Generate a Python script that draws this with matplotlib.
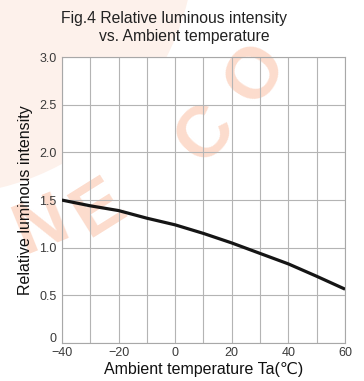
import matplotlib.pyplot as plt
from matplotlib.patches import Circle
from matplotlib.transforms import ScaledTranslation

# Fig.4 relative luminous intensity vs ambient temperature
temps = [-40, -30, -20, -10, 0, 10, 20, 30, 40, 50, 60]
intensity = [1.50, 1.44, 1.39, 1.31, 1.24, 1.15, 1.05, 0.94, 0.83, 0.70, 0.565]

x_ticks = [-40, -20, 0, 20, 40, 60]
y_ticks = [0, 0.5, 1.0, 1.5, 2.0, 2.5, 3.0]
y_labels = ["0", "0.5", "1.0", "1.5", "2.0", "2.5", "3.0"]

plt.rcParams["font.family"] = ["Liberation Sans", "DejaVu Sans"]

fig = plt.figure(figsize=(3.64, 3.81), dpi=100)

# faint logo disc in the top-left corner (behind the axes)
fig.patches.append(Circle((-0.6, 4.41), 2.55, transform=fig.dpi_scale_trans,
                          facecolor="#fdf1eb", edgecolor="none", zorder=-5))

ax = fig.add_axes([0.170, 0.0997, 0.778, 0.7503])
ax.set_facecolor("white")

# watermark letters along an arc, over the axes background but under the grid
wm = [("N", 0.112, 0.405, 22), ("E", 0.272, 0.452, 32),
      ("C", 0.565, 0.650, 48), ("O", 0.705, 0.810, 58)]
for ch, fx, fy, rot in wm:
    ax.text(fx, fy, ch, transform=fig.transFigure, fontsize=52, fontweight="bold",
            color="#fcdccd", rotation=rot, ha="center", va="center",
            zorder=0.5, clip_on=False)

ax.plot(temps, intensity, color="#151515", linewidth=2.3, solid_capstyle="butt", zorder=3)

ax.set_xlim(-40, 60)
ax.set_ylim(0, 3.0)
ax.set_xticks(x_ticks)
ax.set_xticks(range(-40, 61, 10), minor=True)
ax.set_yticks(y_ticks)
ax.set_yticklabels(y_labels)
ax.grid(True, which="both", color="#b4b4b4", linewidth=0.8)
ax.tick_params(which="both", length=0, labelsize=9, colors="#3a3a3a", pad=4)
ax.tick_params(axis="x", pad=3)
for s in ax.spines.values():
    s.set_color("#a8a8a8")
    s.set_linewidth(0.8)

# the "0" on the y axis sits a bit above the corner in the original
lab0 = ax.get_yticklabels()[0]
lab0.set_transform(lab0.get_transform() + ScaledTranslation(0, 4 / 72, fig.dpi_scale_trans))

ax.set_xlabel("Ambient temperature Ta(\u2103)", fontsize=11.5, color="#111111", labelpad=2)
ax.set_ylabel("Relative luminous intensity", fontsize=11.5, color="#111111", labelpad=4)

fig.text(0.478, 0.951, "Fig.4 Relative luminous intensity", fontsize=11.3, color="#222222",
         ha="center", va="center")
fig.text(0.505, 0.904, "vs. Ambient temperature", fontsize=11.3, color="#222222",
         ha="center", va="center")

fig.savefig("out.png", dpi=100)
